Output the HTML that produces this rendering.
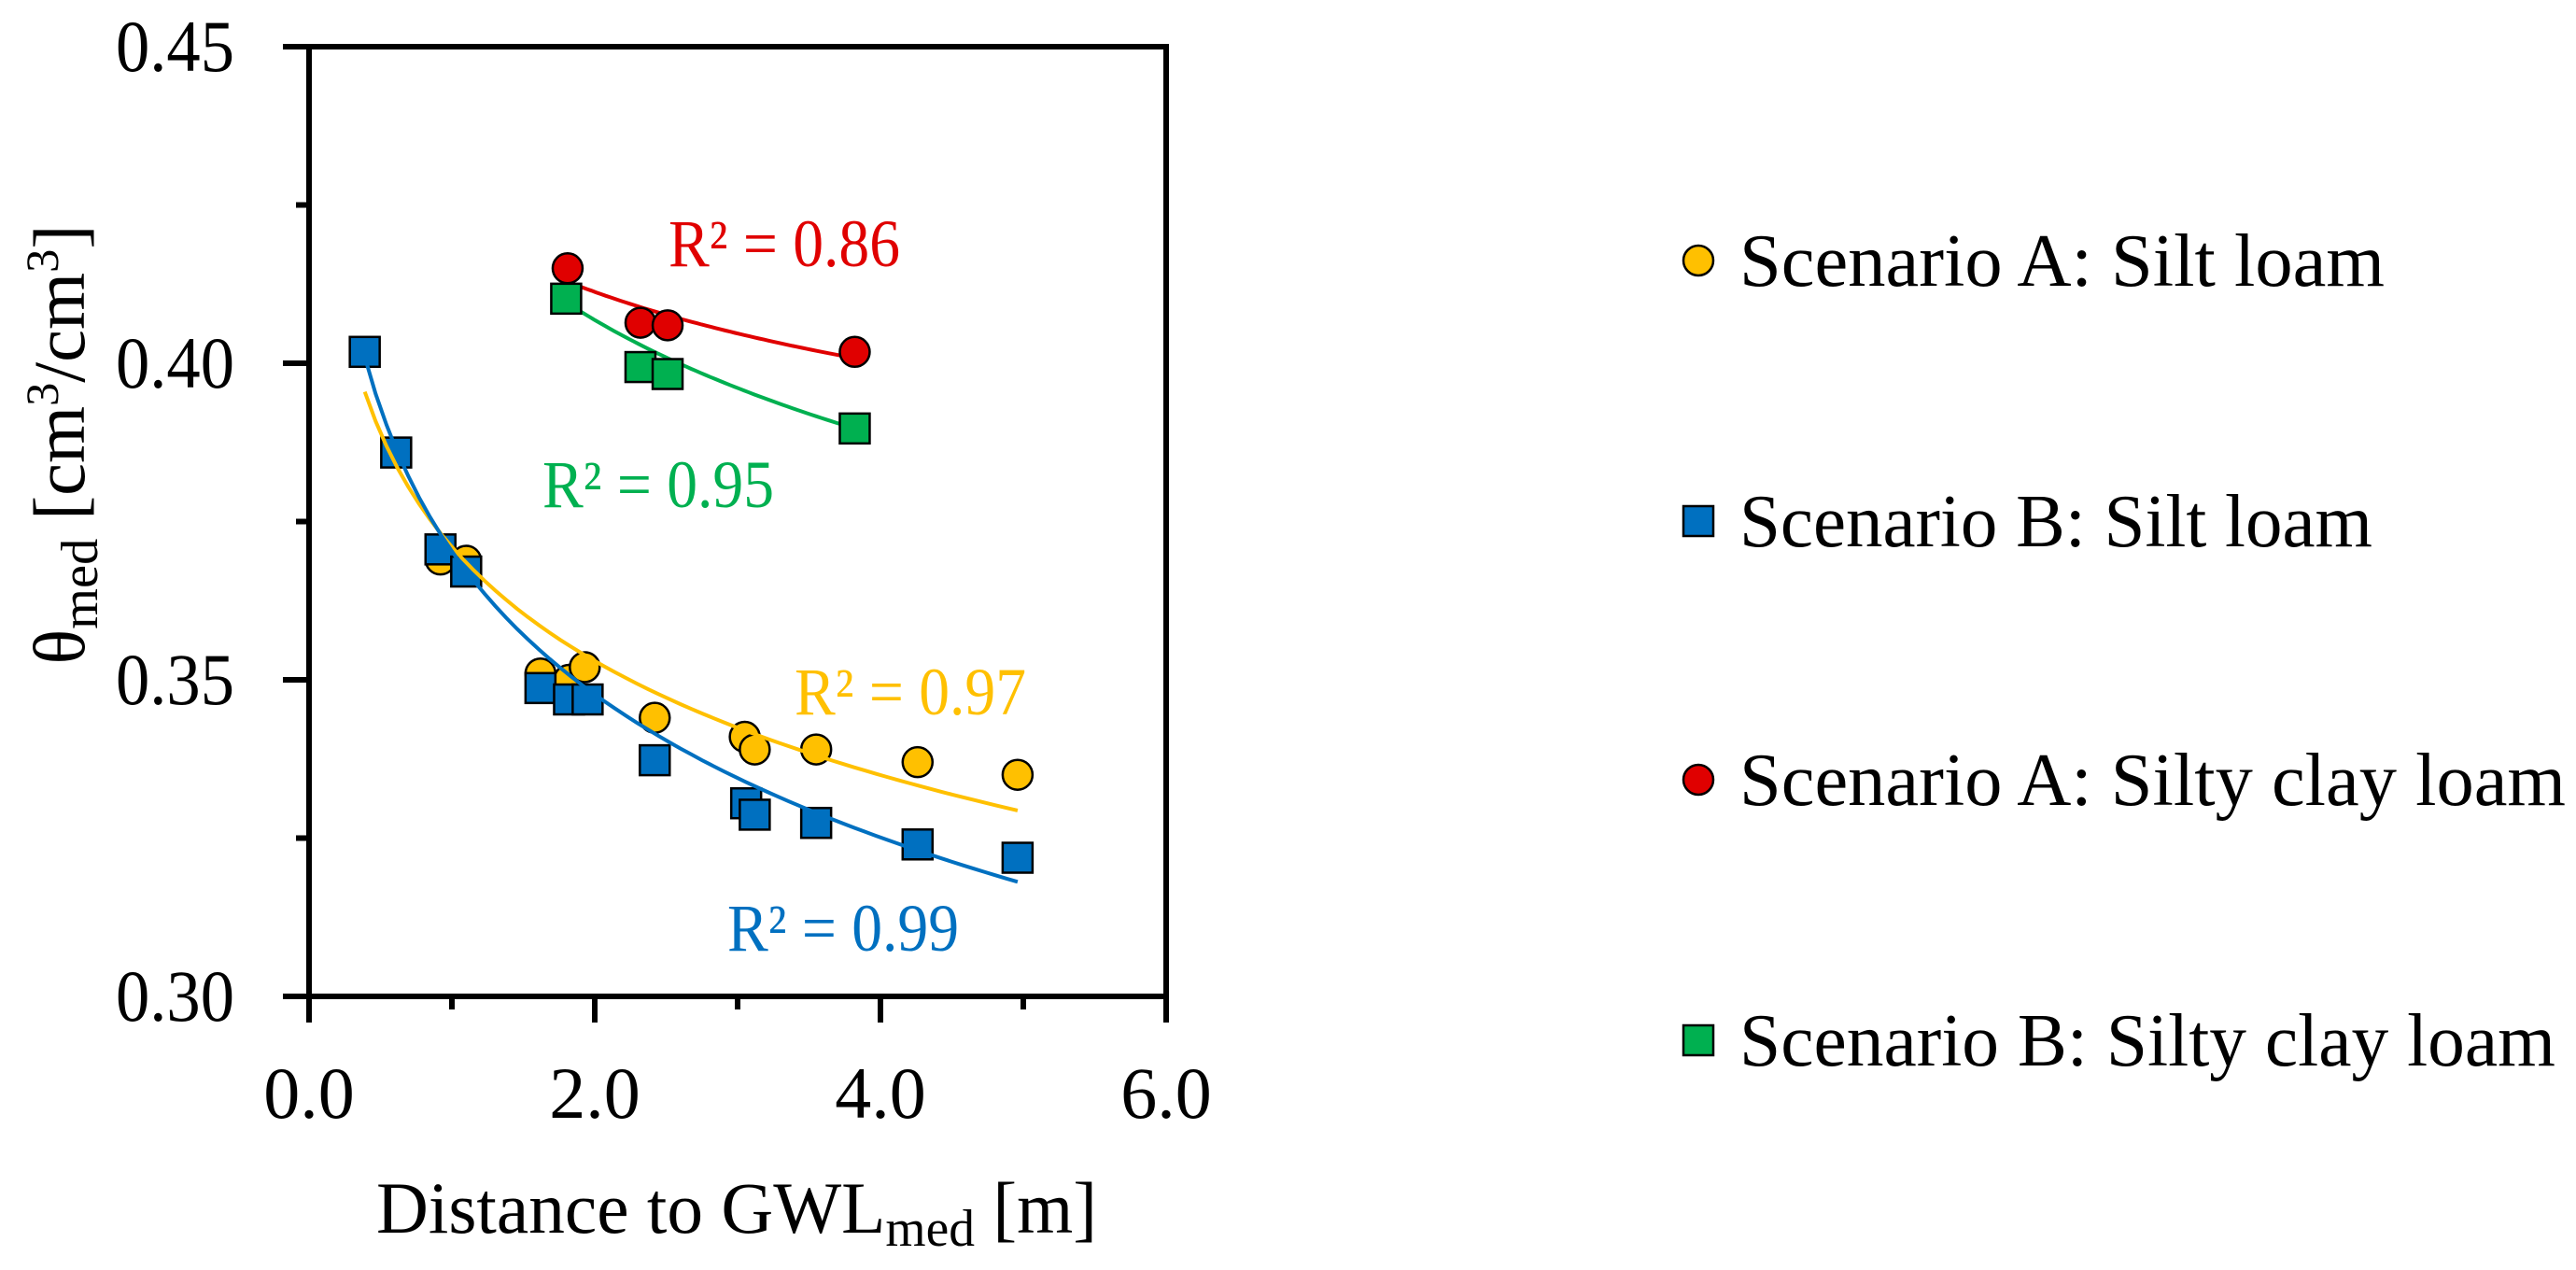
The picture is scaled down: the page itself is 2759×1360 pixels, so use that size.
<!DOCTYPE html>
<html><head><meta charset="utf-8"><style>
html,body{margin:0;padding:0;background:#fff;}
svg{display:block;font-family:"Liberation Serif",serif;}
</style></head><body>
<svg id="chart" width="2759" height="1360" viewBox="0 0 2759 1360" xmlns="http://www.w3.org/2000/svg">
<g id="plot"></g>
<g id="legend"></g>
</svg>
<script>
const xTicks=[0,2,4,6];
const xTickLabels=["0.0","2.0","4.0","6.0"];
const yTicks=[0.30,0.35,0.40,0.45];
const yTickLabels=["0.30","0.35","0.40","0.45"];
const yMinor=[0.325,0.375,0.425];
const xMinor=[1,3,5];
const seriesNames=["Scenario A: Silt loam","Scenario B: Silt loam","Scenario A: Silty clay loam","Scenario B: Silty clay loam"];
const aSiltX=[0.92,1.10,1.62,1.82,1.93,2.42,3.05,3.12,3.55,4.26,4.96];
const aSiltY=[0.369,0.3688,0.351,0.350,0.352,0.344,0.341,0.339,0.339,0.337,0.335];
const bSiltX=[0.39,0.61,0.92,1.10,1.62,1.82,1.95,2.42,3.06,3.12,3.55,4.26,4.96];
const bSiltY=[0.4018,0.3859,0.3706,0.3671,0.3487,0.3469,0.3469,0.3373,0.3305,0.3287,0.3274,0.3240,0.3219];
const aClayX=[1.81,2.32,2.51,3.82];
const aClayY=[0.415,0.4064,0.406,0.4018];
const bClayX=[1.80,2.32,2.51,3.82];
const bClayY=[0.4102,0.3994,0.3983,0.3897];
// log fits y = a + b ln x : [a, b, xStart, xEnd]
const fitASilt=[0.371,-0.026,0.39,4.96];
const fitBSilt=[0.3703,-0.0326,0.39,4.96];
const fitAClay=[0.4225,-0.0162,1.81,3.82];
const fitBClay=[0.4252,-0.0265,1.80,3.82];
const r2Labels=["R² = 0.97","R² = 0.99","R² = 0.86","R² = 0.95"];

const L=331,R=1249,T=50,B=1067;
const xs=v=>L+(v-0)/6*(R-L);
const ys=v=>B-(v-0.30)/0.15*(B-T);
const NS="http://www.w3.org/2000/svg";
const plot=document.getElementById('plot');
const legend=document.getElementById('legend');
function mk(tag,attrs,parent){const e=document.createElementNS(NS,tag);for(const k in attrs)e.setAttribute(k,attrs[k]);parent.appendChild(e);return e;}

let e=mk('rect',{x:L,y:T,width:R-L,height:B-T,fill:'none',stroke:'#000','stroke-width':6},plot);


yTicks.forEach((v,i)=>{
 let t=mk('line',{x1:L-28,x2:L,y1:ys(v),y2:ys(v),stroke:'#000','stroke-width':6},plot);
 
 
 let tx=mk('text',{x:251,y:ys(v)+26,'text-anchor':'end','font-size':78,textLength:127,lengthAdjust:'spacingAndGlyphs'},plot);
 tx.textContent=yTickLabels[i];
 
 
});
yMinor.forEach(v=>{
 let t=mk('line',{x1:L-14,x2:L,y1:ys(v),y2:ys(v),stroke:'#000','stroke-width':6},plot);
 
 
});
xTicks.forEach((v,i)=>{
 let t=mk('line',{x1:xs(v),x2:xs(v),y1:B,y2:B+28,stroke:'#000','stroke-width':6},plot);
 
 
 let tx=mk('text',{x:xs(v),y:1197,'text-anchor':'middle','font-size':78},plot);
 tx.textContent=xTickLabels[i];
 
 
});
xMinor.forEach(v=>{
 let t=mk('line',{x1:xs(v),x2:xs(v),y1:B,y2:B+14,stroke:'#000','stroke-width':6},plot);
 
 
});
let xt=mk('text',{x:789,y:1320,'text-anchor':'middle','font-size':78,textLength:772,lengthAdjust:'spacingAndGlyphs'},plot);
xt.innerHTML='Distance to GWL<tspan font-size="56" dy="14">med</tspan><tspan dy="-14"> [m]</tspan>';


let yt=mk('text',{x:0,y:0,'text-anchor':'middle','font-size':78,textLength:471,lengthAdjust:'spacingAndGlyphs',transform:'translate(90,476) rotate(-90)'},plot);
yt.innerHTML='θ<tspan font-size="56" dy="14">med</tspan><tspan dy="-14"> [cm</tspan><tspan font-size="50" dy="-28">3</tspan><tspan dy="28">/cm</tspan><tspan font-size="50" dy="-28">3</tspan><tspan dy="28">]</tspan>';



function fit(f,color,name){
 let pts=[];for(let i=0;i<=60;i++){const x=f[2]+(f[3]-f[2])*i/60;pts.push(xs(x).toFixed(1)+','+ys(f[0]+f[1]*Math.log(x)).toFixed(1));}
 let p=mk('polyline',{points:pts.join(' '),fill:'none',stroke:color,'stroke-width':4},plot);
 
 
}
fit(fitBClay,'#00b050','trend-b-silty-clay-loam');
fit(fitAClay,'#e00000','trend-a-silty-clay-loam');

function markers(X,Y,shape,color,name){
 X.forEach((x,i)=>{
  let m;
  if(shape==='c') m=mk('circle',{cx:xs(x),cy:ys(Y[i]),r:16,fill:color,stroke:'#000','stroke-width':2.5},plot);
  else m=mk('rect',{x:xs(x)-16,y:ys(Y[i])-16,width:32,height:32,fill:color,stroke:'#000','stroke-width':2.5},plot);
  
  
 });
}
markers(aSiltX,aSiltY,'c','#ffc000','point-a-silt-loam');
markers(bSiltX,bSiltY,'s','#0070c0','point-b-silt-loam');
fit(fitASilt,'#ffc000','trend-a-silt-loam');
fit(fitBSilt,'#0070c0','trend-b-silt-loam');
markers(aClayX,aClayY,'c','#e00000','point-a-silty-clay-loam');
markers(bClayX,bClayY,'s','#00b050','point-b-silty-clay-loam');

const r2Pos=[[851,765,'#ffc000'],[779,1018,'#0070c0'],[716,285,'#e00000'],[581,543,'#00b050']];
r2Labels.forEach((s,i)=>{
 let t=mk('text',{x:r2Pos[i][0],y:r2Pos[i][1],'font-size':72,fill:r2Pos[i][2],textLength:248,lengthAdjust:'spacingAndGlyphs'},plot);
 t.textContent=s;
 
 
});

const legCols=['#ffc000','#0070c0','#e00000','#00b050'];
const legShapes=['c','s','c','s'];
const legY=[279,558,835,1114];
const legW=[691,678,885,874];
seriesNames.forEach((n,i)=>{
 let g=mk('g',{},legend);
 
 
 if(legShapes[i]==='c') mk('circle',{cx:1819,cy:legY[i],r:16,fill:legCols[i],stroke:'#000','stroke-width':2.5},g);
 else mk('rect',{x:1803,y:legY[i]-16,width:32,height:32,fill:legCols[i],stroke:'#000','stroke-width':2.5},g);
 let t=mk('text',{x:1863,y:legY[i]+27,'font-size':80,textLength:legW[i],lengthAdjust:'spacingAndGlyphs'},g);
 t.textContent=n;
});
</script>
</body></html>
